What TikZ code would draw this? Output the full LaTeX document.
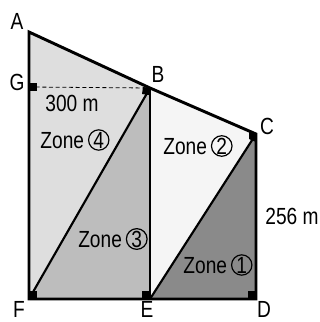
\documentclass[tikz,border=0pt]{standalone}
\usepackage{fontspec}
\setmainfont[FakeStretch=0.82]{Liberation Sans}
\usetikzlibrary{positioning, calc}

\newcommand\zonenum[1]{\tikz[baseline=(z.base)]\node[circle, draw, line width=0.9pt, inner sep=0.3pt, minimum size=14pt] (z) {#1};}

\begin{document}
\begin{tikzpicture}[x=0.75pt, y=-0.75pt]
        \tikzstyle{edge} = [line width=2.2pt, line join=miter]
        \tikzstyle{diag} = [line width=1.6pt]
        \tikzstyle{lbl} = [font=\fontsize{17.5}{20}\selectfont, inner sep=0pt, text=black]
        \tikzstyle{rtbox} = [fill=black]

        \useasboundingbox (0,0) rectangle (320,322);

        % corner points
        \coordinate (A) at (29,32);
        \coordinate (G) at (29,87);
        \coordinate (B) at (150,88);
        \coordinate (C) at (256,134);
        \coordinate (D) at (256,299);
        \coordinate (E) at (150,299);
        \coordinate (F) at (29,299);

        % zones
        \fill [black!13] (A) -- (B) -- (F) -- cycle;
        \fill [black!26] (B) -- (E) -- (F) -- cycle;
        \fill [black!4] (B) -- (C) -- (E) -- cycle;
        \fill [black!46] (C) -- (D) -- (E) -- cycle;

        % right angle marks
        \fill [rtbox] ($(G)+(0,-4)$) rectangle ($(G)+(8,4)$);
        \fill [rtbox] (F) rectangle ($(F)+(8,-8)$);
        \fill [rtbox] (E) rectangle ($(E)+(-8,-8)$);
        \fill [rtbox] (D) rectangle ($(D)+(-8,-8)$);
        \fill [rtbox] (B) -- ++(-7,-1) -- ++(-1,7) -- ++(7,1) -- cycle;
        \fill [rtbox] (C) -- ++(-7,-3) -- ++(0,8) -- ++(7,3) -- cycle;

        \draw [dashed, line width=0.6pt, dash pattern=on 3pt off 2pt] (G) -- (B);
        \draw [diag] (F) -- (B);
        \draw [diag] (E) -- (C);
        \draw [edge] (B) -- (E);
        \draw [edge] (A) -- (B) -- (C) -- (D) -- (F) -- cycle;

        % labels
        \node [lbl] (lA) at (17,21) {A};
        \node [lbl] (lG) at (17,82) {G};
        \node [lbl] (lB) at (158,74) {B};
        \node [lbl] (lC) at (267,126) {C};
        \node [lbl, anchor=base] (lF) at (19,317) {F};
        \node [lbl, anchor=base] (lE) at (147,317) {E};
        \node [lbl, anchor=base] (lD) at (264,317) {D};
        \node [lbl] (len1) at (72,103) {300 m};
        \node [lbl] (len2) at (292,216) {256 m};

        \node [lbl] (z4) at (75,140) {Zone\,\zonenum{4}};
        \node [lbl] (z2) at (198,146) {Zone\,\zonenum{2}};
        \node [lbl] (z3) at (113,239) {Zone\,\zonenum{3}};
        \node [lbl] (z1) at (218,265) {Zone\,\zonenum{1}};
\end{tikzpicture}
\end{document}
